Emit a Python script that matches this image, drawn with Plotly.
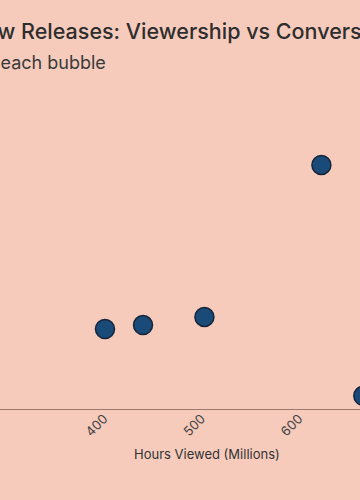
import plotly.graph_objects as go

# Data read from the (cropped) reference
hours_viewed = [401, 440, 503, 623, 666]          # millions of hours
conversion_rate = [2.43, 2.55, 2.80, 7.42, 0.40]  # %
tick_values = [300, 400, 500, 600]
tick_labels = ["300", "400", "500", "600"]

BG = "#f6cbbc"
W, H = 360, 500
PLOT_TOP, PLOT_BOTTOM = 80, 409

fig = go.Figure(
    go.Scatter(
        x=hours_viewed,
        y=conversion_rate,
        mode="markers",
        marker=dict(size=19, color="#1a4a78", line=dict(color="#15263a", width=1.5)),
        cliponaxis=True,
        hoverinfo="skip",
    )
)

def py_to_paper(py):
    return (PLOT_BOTTOM - py) / (PLOT_BOTTOM - PLOT_TOP)

fig.update_layout(
    width=W,
    height=H,
    paper_bgcolor=BG,
    plot_bgcolor=BG,
    showlegend=False,
    margin=dict(l=0, r=0, t=PLOT_TOP, b=H - PLOT_BOTTOM, pad=0),
    font=dict(family="Inter, sans-serif", color="#333333"),
    xaxis=dict(
        range=[293.3, 662.6],
        tickvals=tick_values,
        ticktext=tick_labels,
        tickangle=-45,
        showgrid=False,
        zeroline=False,
        showline=True,
        linecolor="#9a7a6a",
        linewidth=1,
        ticks="",
        ticklabelstandoff=-4,
        tickfont=dict(size=13, color="#444444"),
    ),
    yaxis=dict(range=[0, 10], visible=False),
    annotations=[
        dict(
            text="New Releases: Viewership vs Conversion Rate",
            xref="paper", yref="paper",
            x=-33 / W, y=py_to_paper(31),
            xanchor="left", yanchor="middle",
            showarrow=False,
            font=dict(size=21.5, color="#2e2e2e", family="Inter, sans-serif", weight=500),
        ),
        dict(
            text="Hover over each bubble",
            xref="paper", yref="paper",
            x=108 / W, y=py_to_paper(62),
            xanchor="right", yanchor="middle",
            showarrow=False,
            font=dict(size=18, color="#3a3a3a", family="Inter, sans-serif"),
        ),
        dict(
            text="Hours Viewed (Millions)",
            xref="paper", yref="paper",
            x=207 / W, y=py_to_paper(454),
            xanchor="center", yanchor="middle",
            showarrow=False,
            font=dict(size=13, color="#333333", family="Inter, sans-serif"),
        ),
    ],
)

fig.write_html(
    "out.html",
    config={"displayModeBar": False},
    post_script="document.body.style.margin='0';document.body.style.background='" + BG + "';document.body.style.overflow='hidden';",
)
